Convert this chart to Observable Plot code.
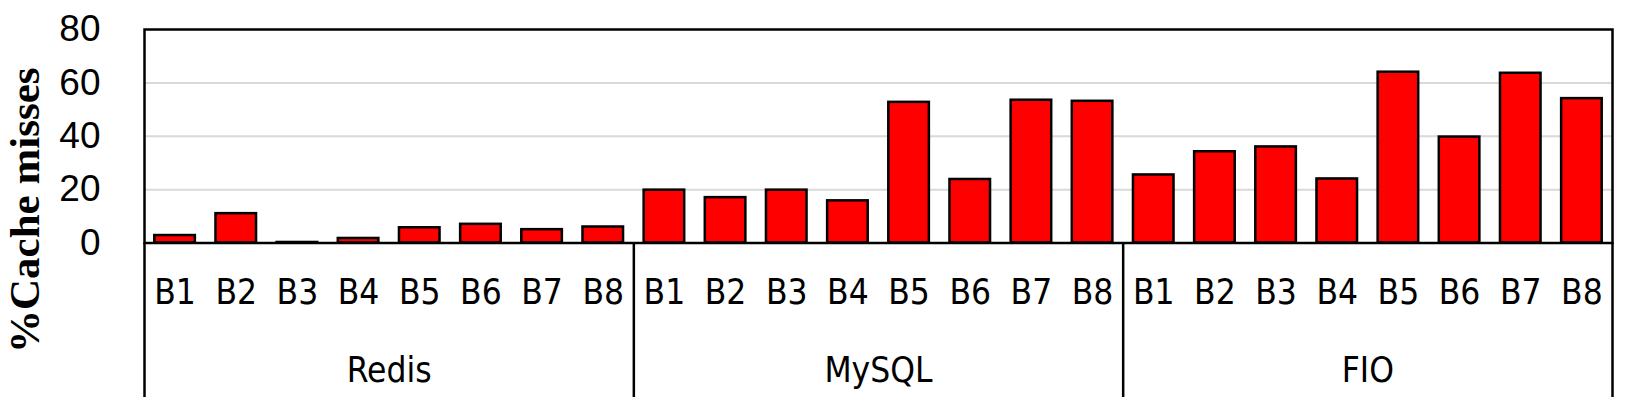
<!DOCTYPE html>
<html>
<head>
<meta charset="utf-8">
<script src="https://cdn.jsdelivr.net/npm/d3@7"></script>
<script src="https://cdn.jsdelivr.net/npm/@observablehq/plot@0.6"></script>
<style>
  html, body { margin: 0; padding: 0; background: #fff; }
  #chart svg { display: block; }
</style>
</head>
<body>
<div id="chart"></div>
<script>
// ---- data ----
const groups = ["Redis", "MySQL", "FIO"];
const benches = ["B1", "B2", "B3", "B4", "B5", "B6", "B7", "B8"];
const redis = [2.8, 11.0, 0.2, 1.7, 5.7, 7.0, 5.0, 6.0];
const mysql = [19.8, 17.0, 19.8, 15.8, 52.7, 23.8, 53.5, 53.1];
const fio   = [25.5, 34.2, 36.0, 24.0, 64.0, 39.7, 63.6, 54.1];
const yTicks = [0, 20, 40, 60, 80];
const yLabel = "%Cache misses";

// ---- build table ----
const series = [redis, mysql, fio];
const n = benches.length;
const data = groups.flatMap((g, gi) =>
  benches.map((b, bi) => ({group: g, bench: b, value: series[gi][bi], i: gi * n + bi}))
);
const groupInfo = groups.map((g, gi) => ({group: g, start: gi * n, mid: gi * n + n / 2}));
const bounds = [...groupInfo.map(d => d.start), groups.length * n];

const labelFont = "'DejaVu Sans Condensed', 'DejaVu Sans', sans-serif";

const chart = Plot.plot({
  width: 1626,
  height: 410,
  marginLeft: 144,
  marginRight: 14,
  marginTop: 29,
  marginBottom: 167.5,
  x: {domain: [0, groups.length * n], axis: null},
  y: {domain: [0, 80], axis: null},
  style: {fontFamily: "'Liberation Sans', Arial, sans-serif", background: "#fff", color: "#000"},
  marks: [
    Plot.ruleY(yTicks.filter(t => t > 0 && t < 80), {stroke: "#d9d9d9", strokeWidth: 2}),
    Plot.rectY(data, {
      x1: "i", x2: d => d.i + 1, y: "value",
      fill: "#ff0000", stroke: "#000", strokeWidth: 2.5,
      insetLeft: 10.3, insetRight: 10.3
    }),
    Plot.frame({stroke: "#000", strokeWidth: 2.5}),
    Plot.ruleX(bounds, {x: d => d, stroke: "#000", strokeWidth: 2.5, insetTop: 213.5, insetBottom: -154.5}),
    Plot.text(yTicks, {
      y: d => d, text: d => String(d), frameAnchor: "left", textAnchor: "end", lineAnchor: "middle",
      dx: -44, fontSize: 37, fill: "#000"
    }),
    Plot.text(data, {
      x: d => d.i + 0.5, text: "bench", frameAnchor: "bottom", lineAnchor: "middle", dy: 50,
      fontSize: 35, fontFamily: labelFont, fill: "#000"
    }),
    Plot.text(groupInfo, {
      x: "mid", text: "group", frameAnchor: "bottom", lineAnchor: "middle", dy: 127.5,
      fontSize: 35, fontFamily: labelFont, fill: "#000"
    }),
    Plot.text([yLabel], {
      text: d => d, frameAnchor: "left", textAnchor: "middle", lineAnchor: "middle",
      rotate: -90, dx: -119, dy: 74,
      fontSize: 43, fontWeight: "bold", fontFamily: "'Liberation Serif', 'Times New Roman', serif", fill: "#000"
    })
  ]
});
document.getElementById("chart").appendChild(chart);
</script>
</body>
</html>
